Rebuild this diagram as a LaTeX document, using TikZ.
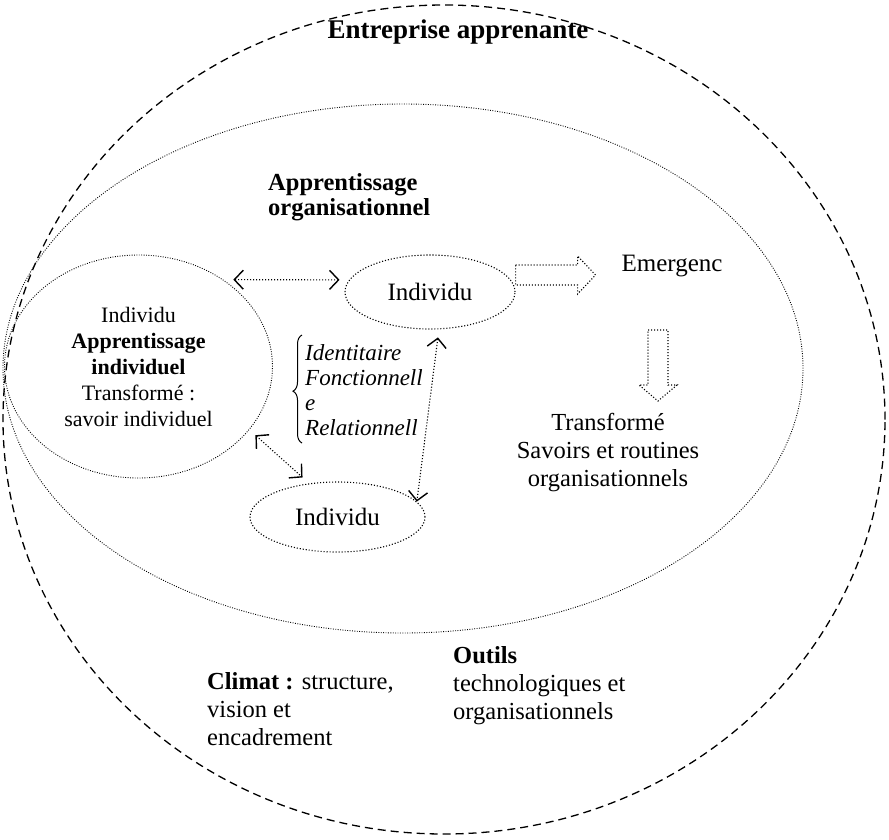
\documentclass[tikz,border=0pt]{standalone}
\usepackage{fontspec}
\setmainfont{Liberation Serif}
\usetikzlibrary{shapes.geometric,arrows.meta,decorations.pathreplacing}

\begin{document}
\begin{tikzpicture}[x=1pt,y=-1pt,
  zone/.style={ellipse, draw, inner sep=0pt},
  outerline/.style={line width=1.3pt, dash pattern=on 8pt off 5pt},
  innerline/.style={line width=0.9pt, dash pattern=on 0.9pt off 1.5pt},
  indiv/.style={ellipse, draw, inner sep=0pt, line width=1.1pt,
    dash pattern=on 1.1pt off 1.9pt, font=\fontsize{25}{28}\selectfont},
  barb/.tip={Straight Barb[length=9pt,width=19pt,line width=1.4pt]},
  link/.style={line width=1.1pt, dash pattern=on 1.1pt off 1.9pt, barb-barb},
  blockarrow/.style={line width=1.1pt, dash pattern=on 1.1pt off 1.9pt, line join=miter},
  txt/.style={inner sep=0pt, font=\fontsize{24.5}{28}\selectfont},
]
\useasboundingbox (0,0) rectangle (889,839);

% the learning enterprise and organisational learning zones
\node[zone, outerline, minimum width=882pt, minimum height=829pt] (entreprise) at (444,419.5) {};
\node[zone, innerline, minimum width=800pt, minimum height=529pt] (orga) at (403,368.5) {};

\node[inner sep=0pt, font=\fontsize{27}{30}\selectfont\bfseries] (titre) at (458,31.8) {Entreprise apprenante};
\node[inner sep=0pt, anchor=west, align=left, font=\fontsize{24.5}{25}\selectfont\bfseries]
  (apporga) at (268,197) {Apprentissage\\organisationnel};

% individuals
\node[zone, innerline, minimum width=268pt, minimum height=223pt, align=center,
  font=\fontsize{22}{26}\selectfont] (L) at (138.5,366.5)
  {Individu\\\textbf{Apprentissage}\\\textbf{individuel}\\Transformé :\\savoir individuel};
\node[indiv, minimum width=170pt, minimum height=74pt] (T) at (430,292) {Individu};
\node[indiv, minimum width=175pt, minimum height=70pt] (B) at (337.5,517) {Individu};

% links between individuals
\draw[link] ([shift={(10.6,0.4)}]L.46) -- ([shift={(-10,0.6)}]T.171);
\draw[link] ([shift={(6.4,4.9)}]L.-30) -- ([shift={(-5.8,-6)}]B.131);
\draw[link] ([shift={(0,8)}]T.-78) -- (B.11);

% dimensions of the exchanges
\node[inner sep=0pt, anchor=west, align=left, font=\fontsize{23}{25}\selectfont\itshape]
  (dims) at (305,390) {Identitaire\\Fonctionnell\\e\\Relationnell};
\draw[line width=1pt, decorate, decoration={brace, amplitude=9pt, aspect=0.48}]
  (302,443) -- (302,335);

% emergence and transformation
\node[txt, font=\fontsize{25}{28}\selectfont] (emerg) at (672,266.5) {Emergenc};
\coordinate (emtail) at ([shift={(0,-17)}]T.east);
\draw[blockarrow] (emtail) ++(0,-10) -- ++(62,0) -- ++(0,-9) -- ++(18,19)
  -- ++(-18,19) -- ++(0,-9) -- ++(-62,0) -- cycle;
\coordinate (trtop) at (658,330);
\draw[blockarrow] (trtop) ++(-10,0) -- ++(20,0) -- ++(0,55) -- ++(9,0)
  -- ++(-19,16) -- ++(-19,-16) -- ++(9,0) -- cycle;
\node[txt, align=center] (transf) at (608,453)
  {Transformé\\Savoirs et routines\\organisationnels};

% context of the enterprise
\node[txt, anchor=west, align=left] (climat) at (207,709.5)
  {\textbf{Climat :} structure,\\vision et\\encadrement};
\node[txt, anchor=west, align=left] (outils) at (453,686)
  {\textbf{Outils}\\technologiques et\\organisationnels};
\end{tikzpicture}
\end{document}
